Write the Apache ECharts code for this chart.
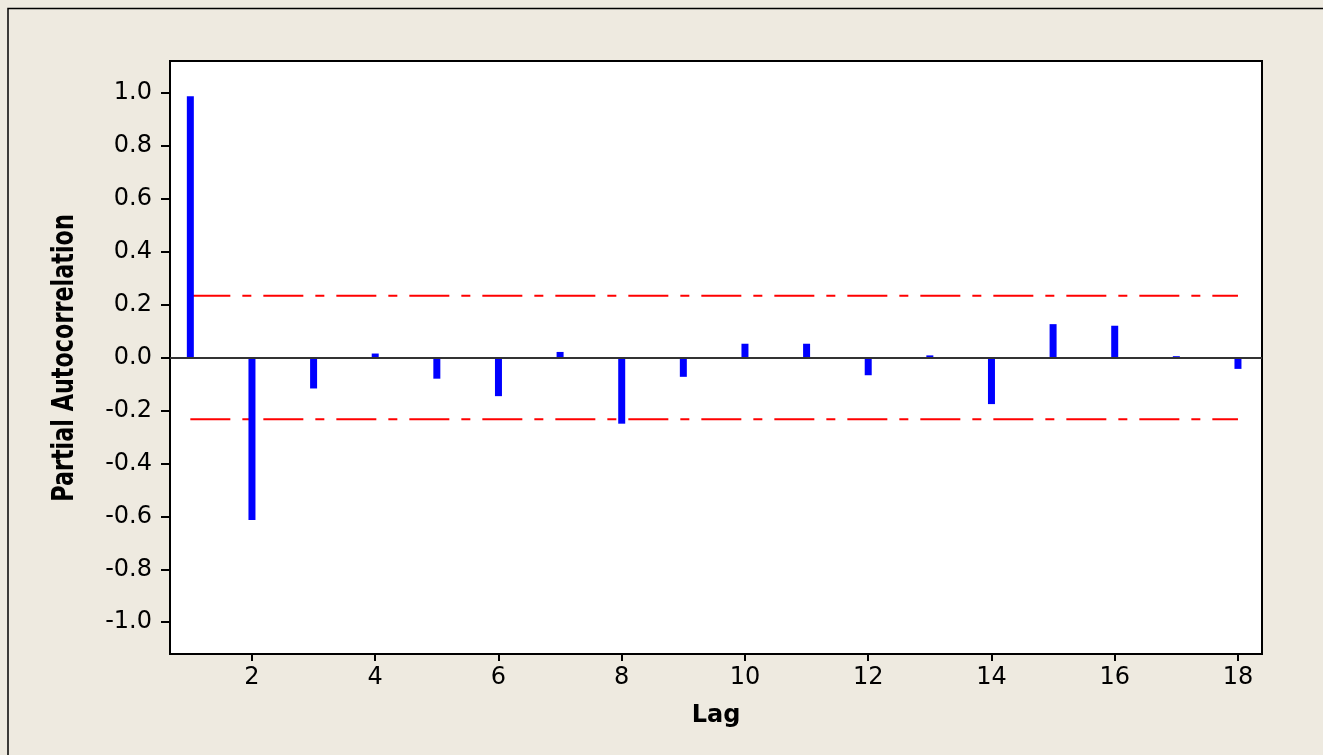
<!DOCTYPE html>
<html>
<head>
<meta charset="utf-8">
<script src="https://cdn.jsdelivr.net/npm/echarts@6/dist/echarts.min.js"></script>
<style>
  html, body { margin: 0; padding: 0; background: #EEEAE0; }
  #chart { width: 1323px; height: 755px; }
</style>
</head>
<body>
<div id="chart"></div>
<script>
// lags and partial autocorrelation values
const lags = [1, 2, 3, 4, 5, 6, 7, 8, 9, 10, 11, 12, 13, 14, 15, 16, 17, 18];
const pacf = [0.987, -0.614, -0.117, 0.015, -0.080, -0.146, 0.021, -0.250, -0.073,
              0.052, 0.052, -0.067, 0.008, -0.176, 0.126, 0.120, 0.005, -0.043];
const upperLimit = 0.233;
const lowerLimit = -0.233;
const xTicks = [2, 4, 6, 8, 10, 12, 14, 16, 18];
const yTicks = [-1.0, -0.8, -0.6, -0.4, -0.2, 0.0, 0.2, 0.4, 0.6, 0.8, 1.0];

const chart = echarts.init(document.getElementById('chart'));

const barData = lags.map((lag, i) => [lag, pacf[i]]);
const limitLine = (v) => [[lags[0], v], [lags[lags.length - 1], v]];

const option = {
    backgroundColor: '#EEEAE0',
    animation: false,
    textStyle: {fontFamily: 'DejaVu Sans'},
    graphic: [{
        type: 'polyline',
        shape: {points: [[8, 755], [8, 8.5], [1323, 8.5]]},
        style: {stroke: '#000', lineWidth: 1.5, fill: null}
    }, {
        // y axis title, tall narrow bold like the original
        type: 'text',
        x: 65,
        y: 358,
        rotation: Math.PI / 2,
        scaleX: 0.8,
        style: {
            text: 'Partial Autocorrelation',
            font: 'bold 31px "DejaVu Sans Condensed"',
            fill: '#000',
            align: 'center',
            verticalAlign: 'middle'
        }
    }],
    grid: {
        left: 170, top: 61, right: 61, bottom: 101,
        show: true,
        backgroundColor: '#fff',
        borderColor: '#000',
        borderWidth: 2
    },
    xAxis: {
        type: 'value',
        min: 0.67,
        max: 18.39,
        name: 'Lag',
        nameLocation: 'middle',
        nameGap: 50,
        nameTextStyle: {fontFamily: 'DejaVu Sans', fontWeight: 'bold', fontSize: 24, color: '#000'},
        axisLine: {show: true, onZero: false, lineStyle: {color: '#000', width: 2}},
        axisTick: {show: true, customValues: xTicks, length: 7, inside: false, lineStyle: {color: '#000', width: 2}},
        axisLabel: {customValues: xTicks, margin: 12, fontSize: 24, color: '#000'},
        splitLine: {show: false}
    },
    yAxis: {
        type: 'value',
        min: -1.12,
        max: 1.12,
        axisLine: {show: true, onZero: false, lineStyle: {color: '#000', width: 2}},
        axisTick: {show: true, customValues: yTicks, length: 9, lineStyle: {color: '#000', width: 2}},
        axisLabel: {
            customValues: yTicks,
            margin: 18,
            fontSize: 24,
            color: '#000',
            formatter: v => v.toFixed(1)
        },
        splitLine: {show: false}
    },
    series: [{
        type: 'bar',
        data: barData,
        barWidth: 7,
        itemStyle: {color: '#0000FF'},
        z: 3,
        markLine: {
            silent: true,
            symbol: 'none',
            label: {show: false},
            lineStyle: {color: '#333', width: 2, type: 'solid'},
            data: [{yAxis: 0}],
            z: 4
        }
    }, {
        type: 'line',
        data: limitLine(upperLimit),
        showSymbol: false,
        lineStyle: {color: '#FF0000', width: 2, type: [40, 12, 9, 12]},
        z: 2
    }, {
        type: 'line',
        data: limitLine(lowerLimit),
        showSymbol: false,
        lineStyle: {color: '#FF0000', width: 2, type: [40, 12, 9, 12]},
        z: 2
    }]
};

chart.setOption(option);
</script>
</body>
</html>
